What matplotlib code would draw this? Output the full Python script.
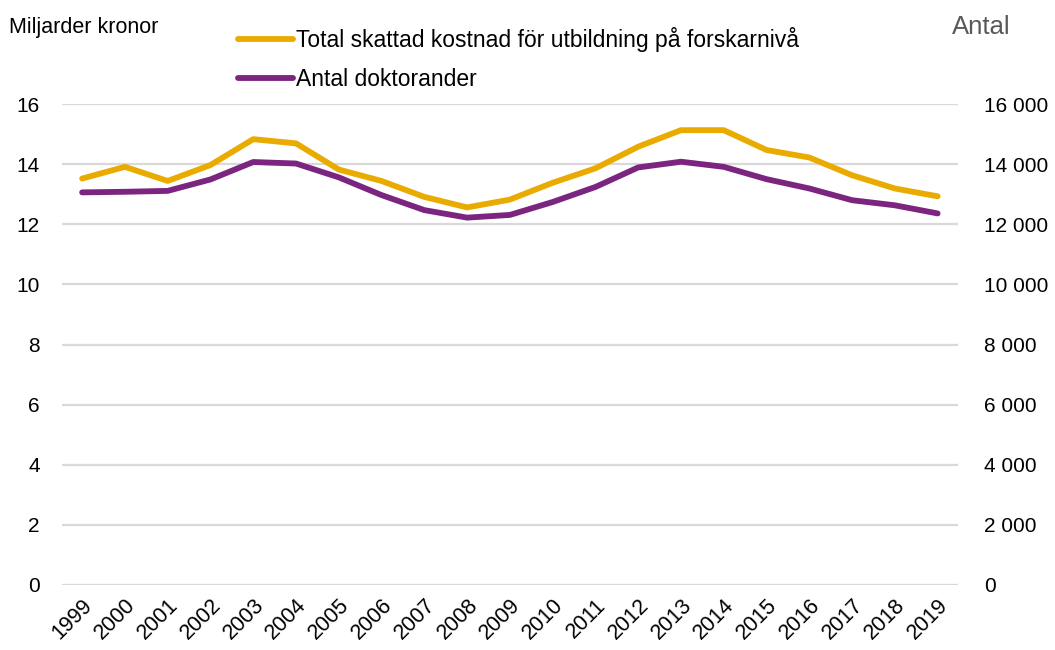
import numpy as np
import matplotlib.pyplot as plt

plt.rcParams['font.family'] = ['Liberation Sans', 'DejaVu Sans']

# data
years = [str(y) for y in range(1999, 2020)]
kostnad = [13.52, 13.91, 13.44, 13.97, 14.83, 14.69, 13.82, 13.44, 12.91, 12.56, 12.82,
           13.38, 13.86, 14.58, 15.13, 15.13, 14.47, 14.22, 13.63, 13.19, 12.93]
doktorander = [13060, 13080, 13110, 13490, 14070, 14020, 13560, 12970, 12470, 12220, 12310,
               12740, 13240, 13890, 14080, 13910, 13500, 13190, 12800, 12630, 12360]

yellow = "#EAAB00"
purple = "#7B2581"
grid_col = "#D9D9D9"

fig = plt.figure(figsize=(10.55, 6.5), dpi=100)
ax = fig.add_axes([0.0588, 0.10, 0.849, 0.74])
ax2 = ax.twinx()

x = np.arange(len(years))
l1, = ax.plot(x, kostnad, color=yellow, lw=4.2, solid_capstyle="round", zorder=3,
              label="Total skattad kostnad för utbildning på forskarnivå")
l2, = ax2.plot(x, doktorander, color=purple, lw=4.2, solid_capstyle="round", zorder=3,
               label="Antal doktorander")

ax.set_ylim(0, 16)
ax2.set_ylim(0, 16000)
ax.set_xlim(-0.47, len(years) - 1 + 0.47)
ax.set_yticks(range(0, 17, 2))
ax2.set_yticks(range(0, 16001, 2000))
ax2.set_yticklabels([f"{v:,}".replace(",", " ") if v else "0" for v in range(0, 16001, 2000)])
ax.grid(axis="y", color=grid_col, lw=1.6)
ax.set_axisbelow(True)

ax.set_xticks(x)
ax.set_xticklabels(years, rotation=45, ha="right", rotation_mode="anchor")

for a in (ax, ax2):
    for s in a.spines.values():
        s.set_visible(False)
    a.tick_params(length=0, labelsize=15, colors="black")
ax.tick_params(axis="y", pad=16)
ax2.tick_params(axis="y", pad=19)
ax.tick_params(axis="x", pad=7, labelsize=15.5)

fig.text(0.009, 0.958, "Miljarder kronor", fontsize=15.5, va="center", ha="left")
fig.text(0.958, 0.958, "Antal", fontsize=18.5, va="center", ha="right", color="#595959")

fig.legend(handles=[l1, l2], loc="upper left", bbox_to_anchor=(0.206, 0.99), frameon=False,
           fontsize=16.5, handlelength=2.4, handletextpad=0.15, labelspacing=0.7)

fig.savefig("out.png", dpi=100)
